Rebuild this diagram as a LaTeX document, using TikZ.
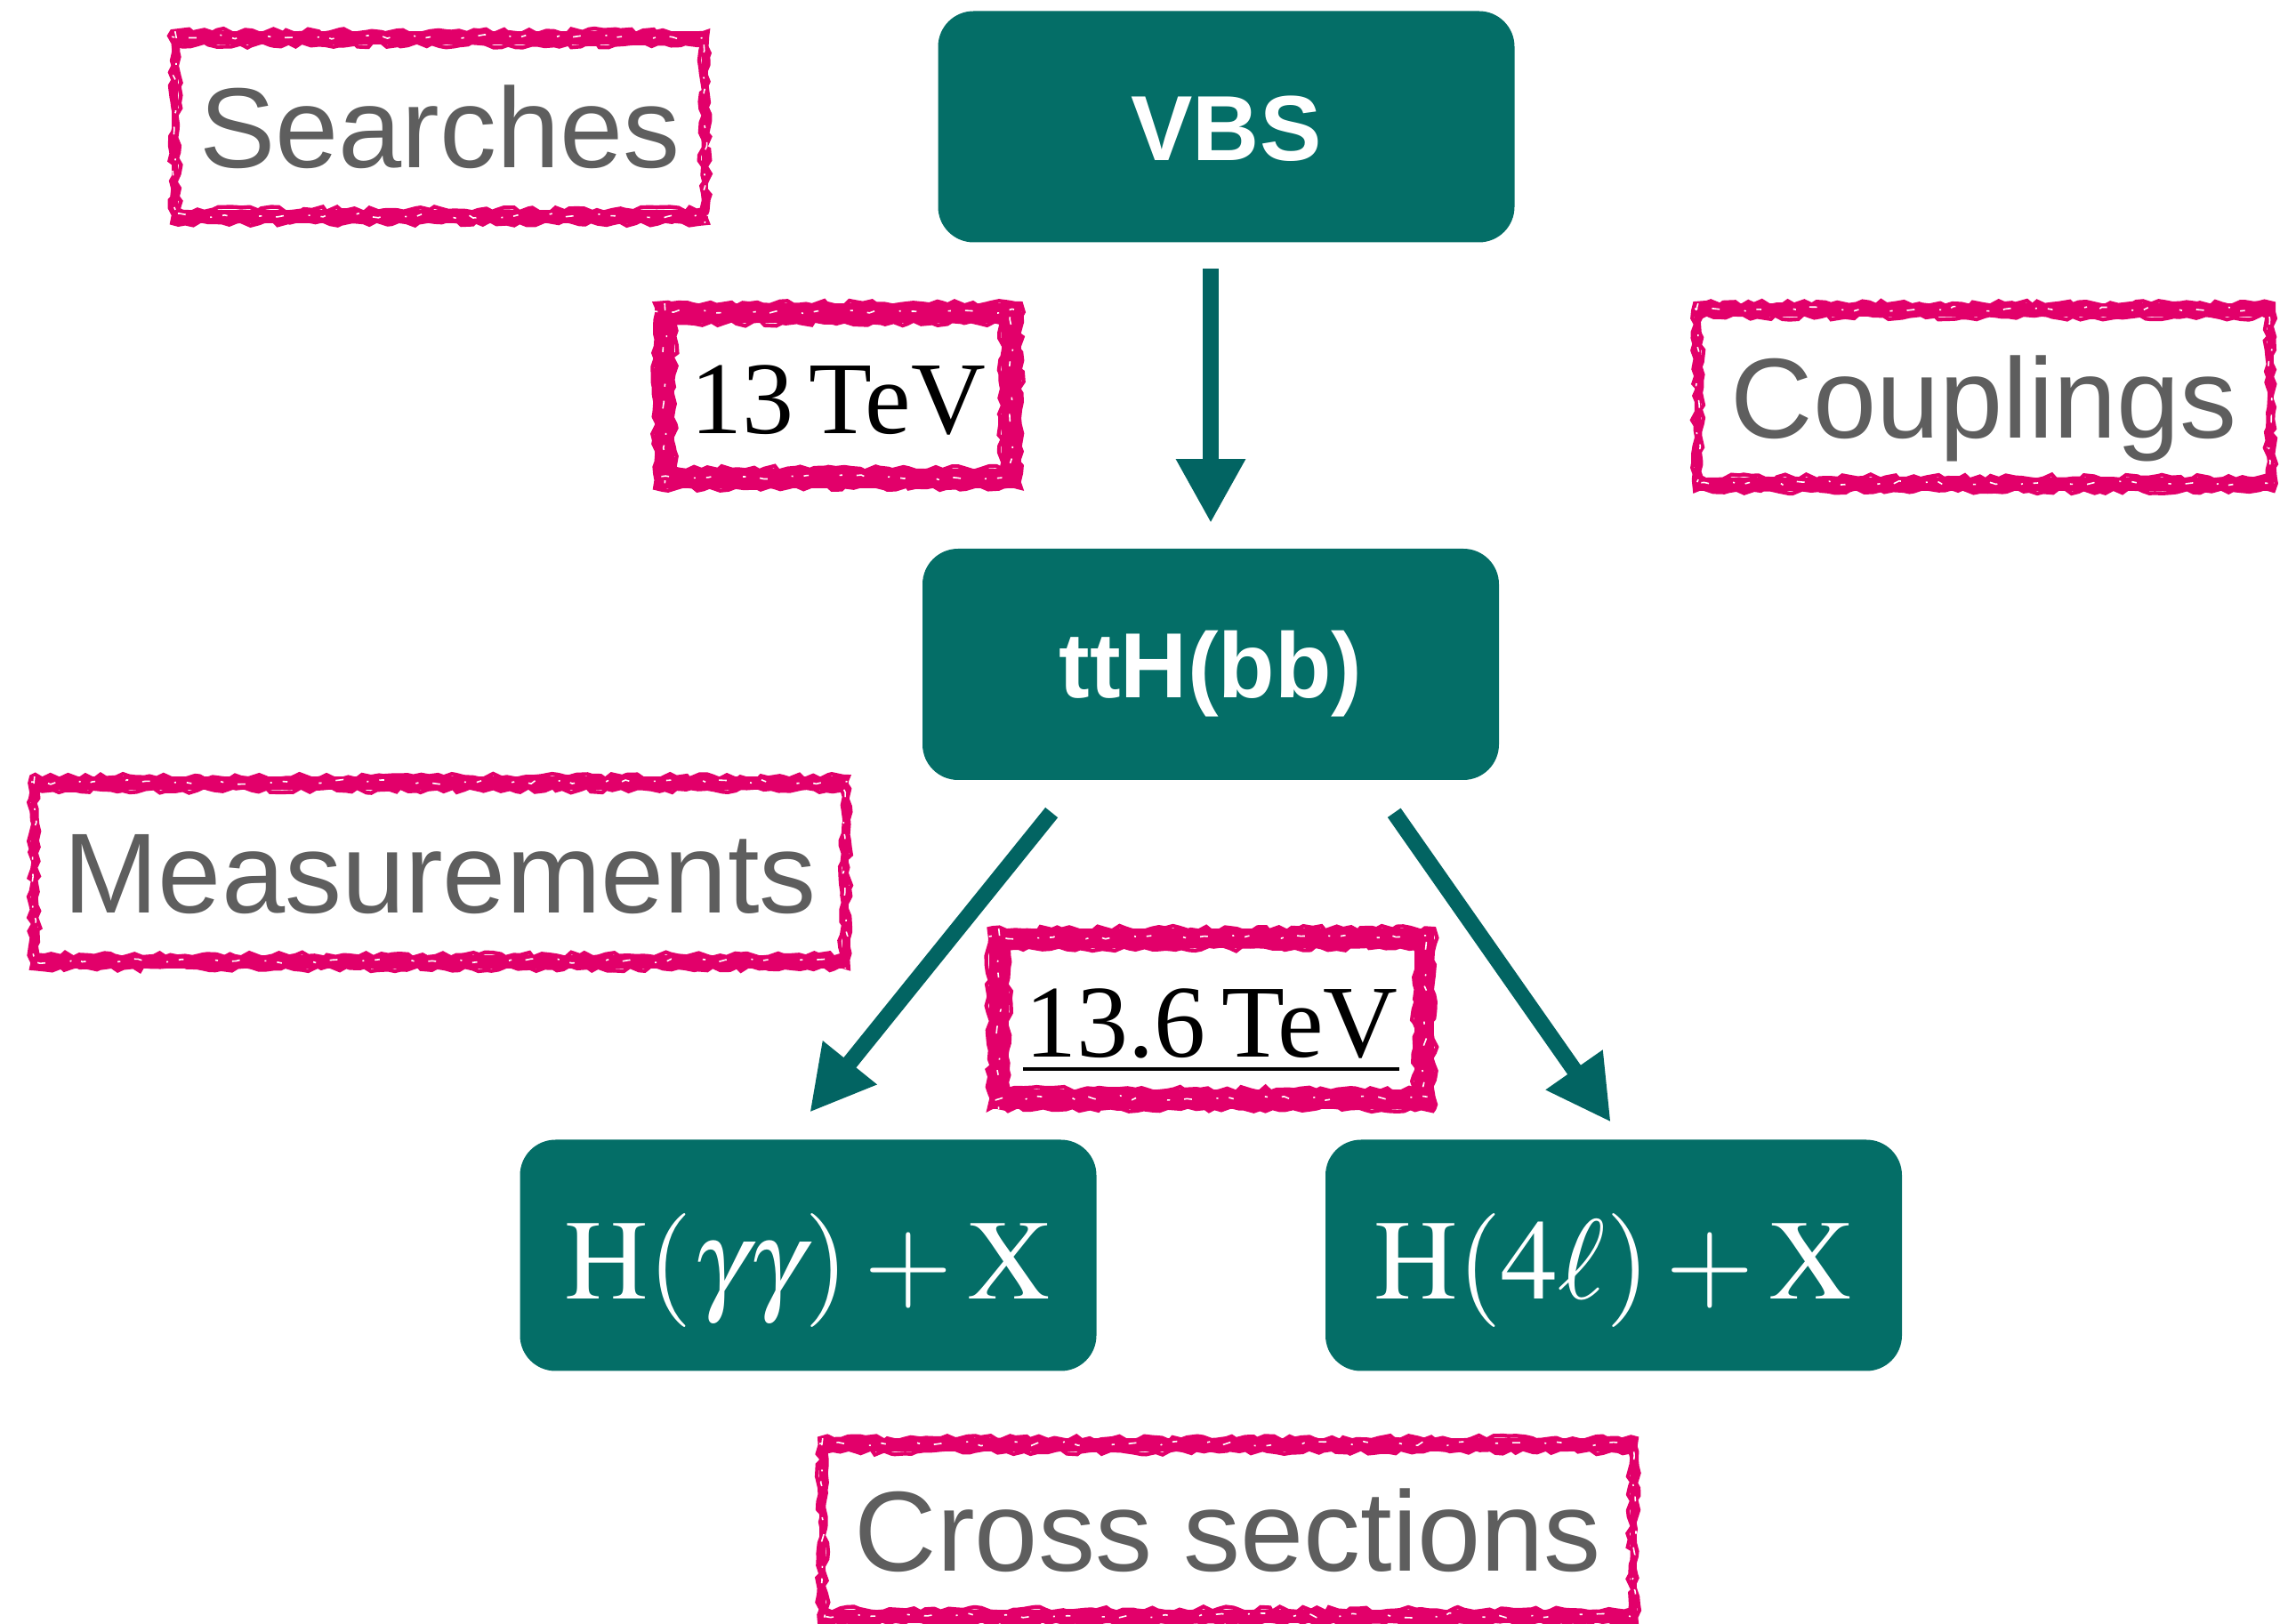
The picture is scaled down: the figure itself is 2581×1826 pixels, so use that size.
\documentclass[tikz,border=0pt]{standalone}
\usepackage{mathptmx}
\usepackage[no-math]{fontspec}
\setmainfont{Liberation Serif}
\setsansfont{Liberation Sans}
\usetikzlibrary{arrows.meta,decorations.pathmorphing}

\definecolor{boxteal}{HTML}{046E67}
\definecolor{arrowteal}{HTML}{026462}
\definecolor{tagpink}{HTML}{E2006A}
\definecolor{tagtext}{HTML}{5E5E5E}

% Brush-stroke frame around a named node: #1 node, #2 side band, #3 top/bottom band
\newcommand\brushframe[3]{%
  \fill[tagpink] (#1.north west) rectangle ([yshift=-#3]#1.north east);
  \fill[tagpink] (#1.south west) rectangle ([yshift=#3]#1.south east);
  \fill[tagpink] (#1.north west) rectangle ([xshift=#2]#1.south west);
  \fill[tagpink] (#1.north east) rectangle ([xshift=-#2]#1.south east);
  \draw[brushedge] (#1.north west) rectangle (#1.south east);
  \draw[brushedge] ([shift={(#2,-#3)}]#1.north west) rectangle ([shift={(-#2,#3)}]#1.south east);
  \draw[flecks] ([yshift=-0.4*#3]#1.north west) -- ([yshift=-0.4*#3]#1.north east);
  \draw[flecks, dash phase=3pt] ([yshift=0.55*#3]#1.south west) -- ([yshift=0.55*#3]#1.south east);
  \draw[flecks, dash phase=5pt] ([xshift=0.5*#2]#1.north west) -- ([xshift=0.5*#2]#1.south west);
  \draw[flecks, dash phase=1pt] ([xshift=-0.5*#2]#1.north east) -- ([xshift=-0.5*#2]#1.south east);
}

\begin{document}
\begin{tikzpicture}[x=0.25pt,y=-0.25pt,
  box/.style={fill=boxteal, rounded corners=10pt, minimum width=162pt,
    minimum height=65pt, inner sep=0pt, text=white},
  boxlabel/.style={font=\sffamily\bfseries\fontsize{26}{30}\selectfont,
    text height=19pt, text depth=0pt},
  mathlabel/.style={font=\fontsize{32}{38}\selectfont,
    text height=24.4pt, text depth=0pt},
  tag/.style={inner sep=0pt},
  taglabel/.style={font=\sffamily\fontsize{32}{38}\selectfont, text=tagtext,
    text height=23pt, text depth=0pt},
  energy/.style={font=\fontsize{29}{34}\selectfont, text=black,
    text height=21.5pt, text depth=0pt},
  brushedge/.style={draw=tagpink, line width=1.1pt, decorate,
    decoration={random steps, segment length=2pt, amplitude=0.8pt}},
  flecks/.style={draw=white, line width=0.4pt,
    dash pattern=on 0.8pt off 4pt on 2.2pt off 7pt on 0.5pt off 3pt on 1.4pt off 9pt,
    decorate, decoration={random steps, segment length=2.5pt, amplitude=0.7pt}},
  flow/.style={draw=arrowteal, line width=4.5pt,
    -{Triangle[length=18pt,width=18.25pt]}},
  uline/.style={draw=black, line width=0.8pt}
]
\useasboundingbox (0,0) rectangle (2581,1826);

% process boxes
\node[box, boxlabel] (vbs) at (1378.5,142.5) {VBS};
\node[box, boxlabel] (tth) at (1361,747) {ttH(bb)};
\node[box, mathlabel] (hgg) at (908.5,1411.5) {$\mathrm{H}(\gamma\gamma)+\mathrm{X}$};
\node[box, mathlabel] (h4l) at (1814,1411.5) {$\mathrm{H}(4\ell)+\mathrm{X}$};

% keyword tags
\node[tag, taglabel, minimum width=150.25pt, minimum height=53.5pt] (searches) at (494.5,143) {Searches};
\node[tag, taglabel, minimum width=162.25pt, minimum height=52.25pt] (couplings) at (2230.5,446.5) {Couplings};
\node[tag, taglabel, minimum width=229.25pt, minimum height=53.5pt] (measure) at (494.5,981) {Measurements};
\node[tag, taglabel, minimum width=229.25pt, minimum height=51.5pt] (xsec) at (1380.5,1721) {Cross sections};
\node[tag, energy, minimum width=102.5pt, minimum height=51.5pt] (t13) at (942,445) {13\kern0.15em TeV};
\node[tag, energy, minimum width=124.75pt, minimum height=50.25pt] (t136) at (1362,1145.5) {13.6\kern0.15em TeV};
\draw[uline] ([shift={(-212,56.5)}]t136.center) -- ([shift={(211,56.5)}]t136.center);

\brushframe{searches}{1.8pt}{3.8pt}
\brushframe{couplings}{1.8pt}{3.8pt}
\brushframe{measure}{1.8pt}{3.8pt}
\brushframe{xsec}{1.8pt}{3.8pt}
\brushframe{t13}{5.5pt}{5.5pt}
\brushframe{t136}{5.5pt}{5.5pt}

% connectors
\draw[flow, shorten <=7.25pt, shorten >=7pt] (tth.north |- vbs.south) -- (tth.north);
\draw[flow, shorten <=11.5pt, shorten >=9.6pt] ([xshift=-37.5pt]tth.south) -- ([xshift=-5.6pt]hgg.north);
\draw[flow, shorten <=11pt, shorten >=5.75pt] ([xshift=45.25pt]tth.south) -- ([xshift=2.5pt]h4l.north);
\end{tikzpicture}
\end{document}
